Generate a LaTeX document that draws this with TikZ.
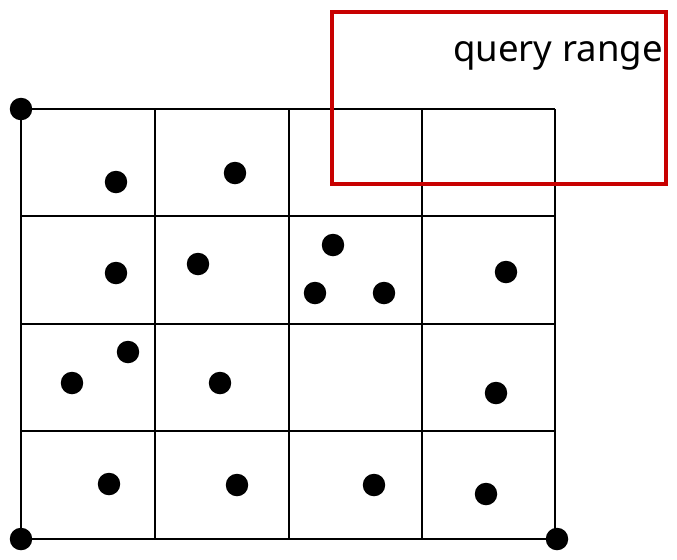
\documentclass[tikz,border=0pt]{standalone}
\usepackage{fontspec}
\setmainfont{Noto Sans}
\usetikzlibrary{calc}
\definecolor{qred}{RGB}{200,0,0}

\begin{document}
\begin{tikzpicture}[x=0.02cm, y=-0.02cm,
    pt/.style={circle, fill=black, inner sep=0pt, minimum size=0.45cm}]
    \useasboundingbox (0, 0) rectangle (677, 559);
    \foreach \x in {21, 155, 289, 422, 555}
        \draw [line width=0.8pt] (\x, 109) -- (\x, 539);
    \foreach \y in {109, 216, 324, 431, 539}
        \draw [line width=0.8pt] (21, \y) -- (555, \y);
    \node [pt] (C1) at (21, 109) {};
        \node [pt] (C2) at (21, 539) {};
        \node [pt] (C3) at (557, 539) {};
    \node [pt] (P1) at (116, 182) {};
        \node [pt] (P2) at (235, 173) {};
        \node [pt] (P3) at (116, 273) {};
        \node [pt] (P4) at (198, 264) {};
        \node [pt] (P5) at (333, 245) {};
        \node [pt] (P6) at (315, 293) {};
        \node [pt] (P7) at (384, 293) {};
        \node [pt] (P8) at (506, 272) {};
        \node [pt] (P9) at (128, 352) {};
        \node [pt] (P10) at (72, 383) {};
        \node [pt] (P11) at (220, 383) {};
        \node [pt] (P12) at (496, 393) {};
        \node [pt] (P13) at (109, 484) {};
        \node [pt] (P14) at (237, 485) {};
        \node [pt] (P15) at (374, 485) {};
        \node [pt] (P16) at (486, 494) {};
    \draw [color=qred, line width=1.8pt] (332, 12) rectangle (666, 184);
    \node [anchor=base east, inner sep=0pt, font=\fontsize{20.8}{25}\selectfont] (Q) at (663, 61) {query range};
\end{tikzpicture}
\end{document}
